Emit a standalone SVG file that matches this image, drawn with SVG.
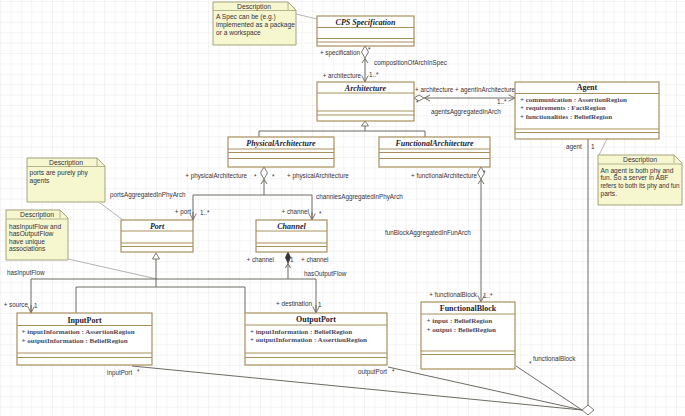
<svg xmlns="http://www.w3.org/2000/svg" width="685" height="416" viewBox="0 0 685 416">
<defs>
<pattern id="grid" x="1" y="2" width="10.4" height="10.4" patternUnits="userSpaceOnUse">
<path d="M10.4,0 V10.4 M0,10.4 H10.4" fill="none" stroke="#e6e6e6" stroke-width="0.8"/>
</pattern>
<marker id="open" viewBox="0 0 8 8" refX="7" refY="4" markerWidth="8" markerHeight="8" markerUnits="userSpaceOnUse" orient="auto">
<path d="M0.5,0.8 L7,4 L0.5,7.2" fill="none" stroke="#6f6a62" stroke-width="0.9"/>
</marker>
</defs>
<style>
.box{fill:#fff;stroke:#a8905c;stroke-width:1.2}
.div{stroke:#a8905c;stroke-width:1}
.note{fill:#f6f6cf;stroke:#a5a47c;stroke-width:1}
.ndiv{stroke:#a5a47c;stroke-width:0.8}
.con{fill:none;stroke:#6f6a62;stroke-width:1}
.nl{fill:none;stroke:#a0a0a0;stroke-width:0.8}
.dia{fill:#fff;stroke:#6f6a62;stroke-width:0.9}
.title{font-family:"Liberation Serif",serif;font-size:8px;font-weight:bold;fill:#222235;text-anchor:middle}
.abs{font-style:italic}
.attr{font-family:"Liberation Serif",serif;font-size:7px;font-weight:bold;fill:#4a4a62}
.lbl{font-family:"Liberation Sans",Arial,sans-serif;font-size:6.3px;fill:#333340}
.nt{font-family:"Liberation Sans",Arial,sans-serif;font-size:6.6px;fill:#333340}
.nh{font-family:"Liberation Sans",Arial,sans-serif;font-size:6.8px;fill:#333340;text-anchor:middle}
</style>
<rect width="685" height="416" fill="#fff"/>
<rect width="685" height="416" fill="url(#grid)"/>

<g id="connectors">
<line class="nl" x1="296" y1="14" x2="317" y2="19"/>
<line class="nl" x1="100" y1="203" x2="123" y2="220"/>
<line class="nl" x1="68" y1="259" x2="157" y2="279"/>
<line class="nl" x1="607" y1="139" x2="599" y2="155"/>
<line class="con" x1="365" y1="58" x2="365" y2="82" marker-end="url(#open)"/>
<polygon class="dia" points="365,46 368.5,52 365,58 361.5,52"/>
<polyline class="con" points="362,63 365,58.5 368,63"/>
<line class="con" x1="424" y1="98" x2="515" y2="98" marker-end="url(#open)"/>
<polygon class="dia" points="414,98 419,95 424,98 419,101"/>
<polyline class="con" points="430,95 424.5,98 430,101"/>
<polyline class="con" points="259,137 259,131 425,131 425,137"/>
<line class="con" x1="365" y1="131" x2="365" y2="126"/>
<polygon class="dia" points="365,121 368.5,126 361.5,126"/>
<polyline class="con" points="193,220 193,195 312,195 312,220"/>
<line class="con" x1="193" y1="212" x2="193" y2="220" marker-end="url(#open)"/>
<line class="con" x1="312" y1="212" x2="312" y2="220" marker-end="url(#open)"/>
<line class="con" x1="264" y1="179" x2="264" y2="195"/>
<polygon class="dia" points="264,167 267.5,173 264,179 260.5,173"/>
<polyline class="con" points="261,184 264,179.5 267,184"/>
<line class="con" x1="481" y1="179" x2="481" y2="302" marker-end="url(#open)"/>
<polygon class="dia" points="481,167 484.5,173 481,179 477.5,173"/>
<polyline class="con" points="478,184 481,179.5 484,184"/>
<polyline class="con" points="76,313 76,287 245,287 245,313"/>
<line class="con" x1="156" y1="287" x2="156" y2="259"/>
<polygon class="dia" points="156,253 159.5,259 152.5,259"/>
<polyline class="con" points="31,313 31,279 316,279 316,313"/>
<line class="con" x1="31" y1="305" x2="31" y2="313" marker-end="url(#open)"/>
<line class="con" x1="316" y1="305" x2="316" y2="313" marker-end="url(#open)"/>
<line class="con" x1="288" y1="263" x2="288" y2="279"/>
<polygon points="288,252 290.5,257.5 288,263 285.5,257.5" fill="#333" stroke="#333" stroke-width="0.8"/>
<polyline class="con" points="285.5,268 288,263.5 290.5,268"/>
<line class="con" x1="588" y1="139" x2="588" y2="405"/>
<line class="con" x1="132" y1="366" x2="582" y2="410"/>
<line class="con" x1="388" y1="367" x2="582" y2="410"/>
<line class="con" x1="516" y1="366" x2="582" y2="410"/>
<polygon class="dia" points="582,410 588,405 594,410 588,415"/>
</g>

<g id="labels">
<text class="lbl" x="360" y="55" text-anchor="end">+ specification</text>
<text class="lbl" x="368" y="52">*</text>
<text class="lbl" x="374" y="65">compositionOfArchInSpec</text>
<text class="lbl" x="361" y="78" text-anchor="end">+ architecture</text>
<text class="lbl" x="369" y="77">1..*</text>
<text class="lbl" x="415" y="92">+ architecture</text>
<text class="lbl" x="455" y="92">+ agentInArchitecture</text>
<text class="lbl" x="416" y="105">*</text>
<text class="lbl" x="497" y="104">1..*</text>
<text class="lbl" x="431" y="114">agentsAggregatedInArch</text>
<text class="lbl" x="247" y="178" text-anchor="end">+ physicalArchitecture</text>
<text class="lbl" x="254" y="179">*</text>
<text class="lbl" x="272" y="179">*</text>
<text class="lbl" x="287" y="178">+ physicalArchitecture</text>
<text class="lbl" x="110" y="197">portsAggregatedInPhyArch</text>
<text class="lbl" x="316" y="199">channlesAggregatedInPhyArch</text>
<text class="lbl" x="191" y="214" text-anchor="end">+ port</text>
<text class="lbl" x="200" y="215">1..*</text>
<text class="lbl" x="309" y="214" text-anchor="end">+ channel</text>
<text class="lbl" x="319" y="216">*</text>
<text class="lbl" x="477" y="178" text-anchor="end">+ functionalArchitecture</text>
<text class="lbl" x="483" y="175">*</text>
<text class="lbl" x="385" y="235">funBlockAggregatedInFunArch</text>
<text class="lbl" x="566" y="149">agent</text>
<text class="lbl" x="591" y="149">1</text>
<text class="lbl" x="274" y="262" text-anchor="end">+ channel</text>
<text class="lbl" x="290" y="262">1</text>
<text class="lbl" x="301" y="262">+ channel</text>
<text class="lbl" x="7" y="275">hasInputFlow</text>
<text class="lbl" x="304" y="276">hasOutputFlow</text>
<text class="lbl" x="28" y="307" text-anchor="end">+ source</text>
<text class="lbl" x="34" y="308">1</text>
<text class="lbl" x="312" y="306" text-anchor="end">+ destination</text>
<text class="lbl" x="318" y="307">1</text>
<text class="lbl" x="477" y="297" text-anchor="end">+ functionalBlock</text>
<text class="lbl" x="483" y="298">1..*</text>
<text class="lbl" x="107" y="375">inputPort</text>
<text class="lbl" x="137" y="374">*</text>
<text class="lbl" x="358" y="374">outputPort</text>
<text class="lbl" x="392" y="374">*</text>
<text class="lbl" x="533" y="361">functionalBlock</text>
<text class="lbl" x="529" y="366">*</text>
</g>

<g id="note-spec">
<path class="note" d="M213,2 H288 L296,10 V45 H213 Z"/>
<line class="ndiv" x1="213" y1="10.5" x2="296" y2="10.5"/>
<path class="ndiv" fill="none" d="M288,2 V10"/>
<text class="nh" x="254" y="8.5">Description</text>
<text class="nt" x="216" y="18.5">A Spec can be (e.g.)</text>
<text class="nt" x="216" y="26.5">implemented as a package</text>
<text class="nt" x="216" y="34.5">or a workspace</text>
</g>

<g id="note-ports">
<path class="note" d="M27,158 H97 L105,166 V202 H27 Z"/>
<line class="ndiv" x1="27" y1="166.5" x2="105" y2="166.5"/>
<path class="ndiv" fill="none" d="M97,158 V166"/>
<text class="nh" x="66" y="164.5">Description</text>
<text class="nt" x="29.5" y="175">ports are purely phy</text>
<text class="nt" x="29.5" y="183">agents</text>
</g>

<g id="note-flow">
<path class="note" d="M6,210 H60 L68,218 V260 H6 Z"/>
<line class="ndiv" x1="6" y1="219" x2="68" y2="219"/>
<path class="ndiv" fill="none" d="M60,210 V218"/>
<text class="nh" x="37" y="217">Description</text>
<text class="nt" x="9" y="228.5">hasInputFlow and</text>
<text class="nt" x="9" y="236">hasOutputFlow</text>
<text class="nt" x="9" y="243.5">have unique</text>
<text class="nt" x="9" y="251">associations</text>
</g>

<g id="note-agent">
<path class="note" d="M598,155 H674 L682,163 V205 H598 Z"/>
<line class="ndiv" x1="598" y1="164" x2="682" y2="164"/>
<path class="ndiv" fill="none" d="M674,155 V163"/>
<text class="nh" x="640" y="161.5">Description</text>
<text class="nt" x="600.5" y="172.5">An agent is both phy and</text>
<text class="nt" x="600.5" y="180">fun. So a server in ABF</text>
<text class="nt" x="600.5" y="188" textLength="79" lengthAdjust="spacingAndGlyphs">refers to both its phy and fun</text>
<text class="nt" x="600.5" y="195.5">parts.</text>
</g>

<g id="cps-specification">
<rect class="box" x="317" y="16" width="97" height="30"/>
<line class="div" x1="317" y1="27.5" x2="414" y2="27.5"/>
<line class="div" x1="317" y1="38.5" x2="414" y2="38.5"/>
<line class="div" x1="317" y1="42" x2="414" y2="42"/>
<text class="title abs" x="365.5" y="24.5">CPS Specification</text>
</g>

<g id="architecture">
<rect class="box" x="317" y="82" width="97" height="39"/>
<line class="div" x1="317" y1="93" x2="414" y2="93"/>
<line class="div" x1="317" y1="111" x2="414" y2="111"/>
<line class="div" x1="317" y1="115" x2="414" y2="115"/>
<text class="title abs" x="365.5" y="90.5">Architecture</text>
</g>

<g id="agent">
<rect class="box" x="515" y="82" width="144" height="57"/>
<line class="div" x1="515" y1="93.5" x2="659" y2="93.5"/>
<line class="div" x1="515" y1="129" x2="659" y2="129"/>
<line class="div" x1="515" y1="132.5" x2="659" y2="132.5"/>
<text class="title" x="587" y="90">Agent</text>
<text class="attr" x="520" y="102">+ communication : AssertionRegion</text>
<text class="attr" x="520" y="110">+ requirements : FactRegion</text>
<text class="attr" x="520" y="118.5">+ functionalities : BeliefRegion</text>
</g>

<g id="physical-architecture">
<rect class="box" x="228" y="137" width="106" height="30"/>
<line class="div" x1="228" y1="149" x2="334" y2="149"/>
<line class="div" x1="228" y1="152.5" x2="334" y2="152.5"/>
<line class="div" x1="228" y1="158.5" x2="334" y2="158.5"/>
<text class="title abs" x="281" y="146">PhysicalArchitecture</text>
</g>

<g id="functional-architecture">
<rect class="box" x="379" y="137" width="111" height="30"/>
<line class="div" x1="379" y1="149" x2="490" y2="149"/>
<line class="div" x1="379" y1="152.5" x2="490" y2="152.5"/>
<line class="div" x1="379" y1="158.5" x2="490" y2="158.5"/>
<text class="title abs" x="434.5" y="146">FunctionalArchitecture</text>
</g>

<g id="port">
<rect class="box" x="121" y="220" width="72" height="32"/>
<line class="div" x1="121" y1="231" x2="193" y2="231"/>
<line class="div" x1="121" y1="243" x2="193" y2="243"/>
<line class="div" x1="121" y1="246.5" x2="193" y2="246.5"/>
<text class="title abs" x="157" y="228.5">Port</text>
</g>

<g id="channel">
<rect class="box" x="256" y="220" width="71" height="32"/>
<line class="div" x1="256" y1="231" x2="327" y2="231"/>
<line class="div" x1="256" y1="243" x2="327" y2="243"/>
<line class="div" x1="256" y1="246.5" x2="327" y2="246.5"/>
<text class="title abs" x="291.5" y="228.5">Channel</text>
</g>

<g id="input-port">
<rect class="box" x="17" y="313" width="135" height="52"/>
<line class="div" x1="17" y1="325.5" x2="152" y2="325.5"/>
<line class="div" x1="17" y1="353" x2="152" y2="353"/>
<line class="div" x1="17" y1="357.5" x2="152" y2="357.5"/>
<text class="title" x="84.5" y="322.5">InputPort</text>
<text class="attr" x="21.5" y="334">+ inputInformation : AssertionRegion</text>
<text class="attr" x="21.5" y="342.5">+ outputInformation : BeliefRegion</text>
</g>

<g id="output-port">
<rect class="box" x="245" y="313" width="142" height="52"/>
<line class="div" x1="245" y1="325" x2="387" y2="325"/>
<line class="div" x1="245" y1="353" x2="387" y2="353"/>
<line class="div" x1="245" y1="357.5" x2="387" y2="357.5"/>
<text class="title" x="316" y="322">OutputPort</text>
<text class="attr" x="250" y="333.5">+ inputInformation : BeliefRegion</text>
<text class="attr" x="250" y="342">+ outputInformation : AssertionRegion</text>
</g>

<g id="functional-block">
<rect class="box" x="421" y="302" width="94" height="67"/>
<line class="div" x1="421" y1="314" x2="515" y2="314"/>
<line class="div" x1="421" y1="351" x2="515" y2="351"/>
<line class="div" x1="421" y1="354.5" x2="515" y2="354.5"/>
<text class="title" x="468" y="311">FunctionalBlock</text>
<text class="attr" x="426.5" y="323">+ input : BeliefRegion</text>
<text class="attr" x="426.5" y="331.5">+ output : BeliefRegion</text>
</g>
</svg>
